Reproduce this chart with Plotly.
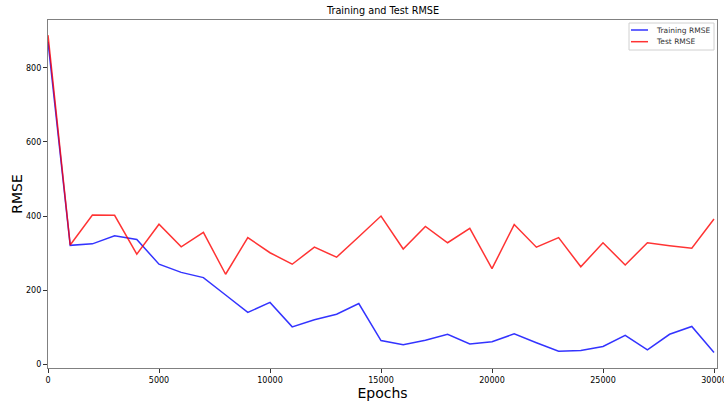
import plotly.graph_objects as go

# Training history: RMSE recorded every 1000 epochs
epochs = list(range(0, 30001, 1000))
train_rmse = [870, 321, 325, 347, 337, 270, 248, 234, 187, 140,
              167, 101, 120, 135, 164, 64, 53, 65, 81, 55,
              61, 82, 58, 35, 37, 48, 78, 39, 81, 102, 32]
test_rmse = [888, 322, 403, 402, 297, 378, 317, 356, 243, 342,
             301, 270, 316, 289, 344, 400, 311, 372, 328, 367,
             258, 377, 316, 342, 263, 328, 268, 328, 320, 313, 392]

x_ticks = [0, 5000, 10000, 15000, 20000, 25000, 30000]
y_ticks = [0, 200, 400, 600, 800]

series_names = ["Training RMSE", "Test RMSE"]
series_colors = ["rgba(0,0,255,0.8)", "rgba(255,0,0,0.8)"]

FONT = "DejaVu Sans"
W, H = 724, 402
ML, MR, MT, MB = 48, 7, 20, 34


def px_to_paper(px, py):
    """Convert figure pixel position to paper coordinates of the plot area."""
    return (px - ML) / (W - ML - MR), (H - MB - py) / (H - MT - MB)


fig = go.Figure()
for ys, name, color in zip([train_rmse, test_rmse], series_names, series_colors):
    fig.add_trace(go.Scatter(x=epochs, y=ys, mode="lines", name=name,
                             line=dict(color=color, width=1.5), showlegend=False))

axis_common = dict(showline=True, mirror=True, linecolor="#808080", linewidth=1.2,
                   showgrid=False, zeroline=False, ticks="outside", ticklen=4,
                   tickcolor="#333", tickwidth=1, automargin=False,
                   ticklabeloverflow="allow",
                   tickfont=dict(family=FONT, size=8, color="black"))

fig.update_xaxes(range=[0, 30135], tickvals=x_ticks, ticktext=[str(v) for v in x_ticks],
                 title=dict(text="Epochs", font=dict(family=FONT, size=14, color="black"),
                            standoff=0),
                 **axis_common)
fig.update_yaxes(range=[-10, 929], tickvals=y_ticks, ticktext=[str(v) for v in y_ticks],
                 title=dict(text="RMSE", font=dict(family=FONT, size=14, color="black"),
                            standoff=0),
                 **axis_common)

# Legend box in the upper-right corner
x0, y0 = px_to_paper(629, 23)
x1, y1 = px_to_paper(714, 50)
fig.add_shape(type="rect", xref="paper", yref="paper", x0=x0, y0=y1, x1=x1, y1=y0,
              line=dict(color="#d0d0d0", width=1), fillcolor="white", layer="above")
for i, (name, color) in enumerate(zip(series_names, series_colors)):
    py = 30 + i * 11.7
    lx0, ly = px_to_paper(631, py)
    lx1, _ = px_to_paper(648, py)
    tx, _ = px_to_paper(654, py)
    fig.add_shape(type="line", xref="paper", yref="paper", x0=lx0, x1=lx1, y0=ly, y1=ly,
                  line=dict(color=color, width=1.5), layer="above")
    fig.add_annotation(xref="paper", yref="paper", x=tx, y=ly, text=name,
                       showarrow=False, xanchor="left", yanchor="middle",
                       font=dict(family=FONT, size=7.5, color="#333"))

fig.update_layout(
    width=W, height=H,
    margin=dict(l=ML, r=MR, t=MT, b=MB),
    paper_bgcolor="white", plot_bgcolor="white",
    title=dict(text="Training and Test RMSE", x=0.529, xanchor="center",
               y=1 - 11 / H, yanchor="middle",
               font=dict(family=FONT, size=9.7, color="black")),
    showlegend=False,
)

fig.write_html("out.html")
